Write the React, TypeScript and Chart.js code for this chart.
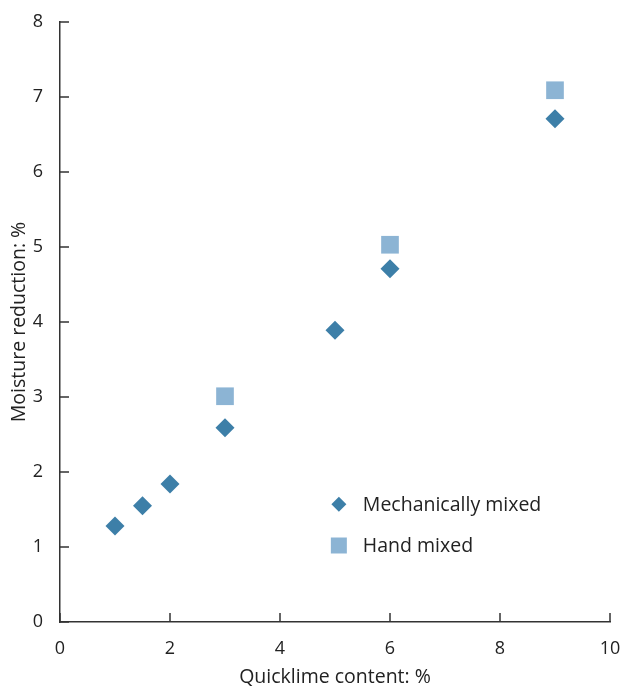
import React, { useEffect, useRef } from "react";
import { Chart, registerables } from "chart.js";

Chart.register(...registerables);

const mechX = [1, 1.5, 2, 3, 5, 6, 9];
const mechY = [1.28, 1.55, 1.84, 2.59, 3.89, 4.71, 6.71];
const handX = [3, 6, 9];
const handY = [3.01, 5.03, 7.09];
const xTicks = [0, 2, 4, 6, 8, 10];
const yTicks = [0, 1, 2, 3, 4, 5, 6, 7, 8];
const seriesNames = ["Mechanically mixed", "Hand mixed"];

const FONT = "'Open Sans', 'Noto Sans', sans-serif";
const AXIS = "#333333";
const TEXT = "#222222";

const inwardTicks = {
  id: "inwardTicks",
  afterDraw(chart: any) {
    const { ctx, chartArea, scales } = chart;
    ctx.save();
    ctx.strokeStyle = AXIS;
    ctx.lineWidth = 1.5;
    ctx.beginPath();
    for (const v of xTicks) {
      const px = scales.x.getPixelForValue(v);
      ctx.moveTo(px, chartArea.bottom);
      ctx.lineTo(px, chartArea.bottom - 9);
    }
    for (const v of yTicks) {
      const py = scales.y.getPixelForValue(v);
      ctx.moveTo(chartArea.left, py);
      ctx.lineTo(chartArea.left + 9, py);
    }
    ctx.stroke();
    ctx.restore();
  },
};

const innerLegend = {
  id: "innerLegend",
  afterDraw(chart: any) {
    const { ctx, scales } = chart;
    ctx.save();
    const baseX = scales.x.getPixelForValue(5.07);
    const rows = [scales.y.getPixelForValue(1.57), scales.y.getPixelForValue(1.02)];
    chart.data.datasets.forEach((ds: any, i: number) => {
      const y = rows[i];
      ctx.fillStyle = ds.backgroundColor;
      ctx.beginPath();
      if (ds.pointStyle === "rectRot") {
        const r = 7.5;
        ctx.moveTo(baseX, y - r);
        ctx.lineTo(baseX + r, y);
        ctx.lineTo(baseX, y + r);
        ctx.lineTo(baseX - r, y);
        ctx.closePath();
      } else {
        ctx.rect(baseX - 8, y - 8, 16, 16);
      }
      ctx.fill();
      ctx.fillStyle = TEXT;
      ctx.font = `19.5px ${FONT}`;
      ctx.textAlign = "left";
      ctx.textBaseline = "middle";
      ctx.fillText(ds.label, baseX + 24, y + 1);
    });
    ctx.restore();
  },
};

export default function App() {
  const ref = useRef<HTMLCanvasElement | null>(null);
  useEffect(() => {
    if (!ref.current) return;
    const chart = new Chart(ref.current, {
      type: "scatter",
      data: {
        datasets: [
          {
            label: seriesNames[0],
            data: mechX.map((x, i) => ({ x, y: mechY[i] })),
            backgroundColor: "#3d7fa8",
            borderWidth: 0,
            pointStyle: "rectRot",
            pointRadius: 9.5,
            order: 1,
          },
          {
            label: seriesNames[1],
            data: handX.map((x, i) => ({ x, y: handY[i] })),
            backgroundColor: "#8cb4d4",
            borderWidth: 0,
            pointStyle: "rect",
            pointRadius: 12.5,
            order: 2,
          },
        ],
      },
      options: {
        animation: false,
        responsive: false,
        devicePixelRatio: 1,
        layout: { padding: { top: 22, right: 16, left: 0, bottom: 0 } },
        plugins: { legend: { display: false }, tooltip: { enabled: false } },
        scales: {
          x: {
            type: "linear",
            min: 0,
            max: 10,
            afterFit: (s: any) => { s.height = 65; s.paddingLeft = 0; s.paddingRight = 0; },
            afterBuildTicks: (s: any) => { s.ticks = xTicks.map((v) => ({ value: v })); },
            grid: { display: false },
            border: { display: true, color: AXIS, width: 1.5 },
            ticks: { color: TEXT, font: { family: FONT, size: 18 }, padding: 8 },
            title: { display: true, text: "Quicklime content: %", color: TEXT, font: { family: FONT, size: 19.5, lineHeight: 1 }, padding: { top: 0, bottom: 0 } },
          },
          y: {
            type: "linear",
            min: 0,
            max: 8,
            afterFit: (s: any) => { s.width = 60; s.paddingTop = 0; s.paddingBottom = 0; },
            afterBuildTicks: (s: any) => { s.ticks = yTicks.map((v) => ({ value: v })); },
            grid: { display: false },
            border: { display: true, color: AXIS, width: 1.5 },
            ticks: { color: TEXT, font: { family: FONT, size: 18 }, padding: 9 },
            title: { display: true, text: "Moisture reduction: %", color: TEXT, font: { family: FONT, size: 19.5 }, padding: { bottom: 0, top: 8 } },
          },
        },
      },
      plugins: [inwardTicks, innerLegend],
    } as any);
    return () => chart.destroy();
  }, []);
  return (
    <div style={{ position: "fixed", left: 0, top: 0, width: 626, height: 687, background: "#fff" }}>
      <canvas ref={ref} width={626} height={687} />
    </div>
  );
}
